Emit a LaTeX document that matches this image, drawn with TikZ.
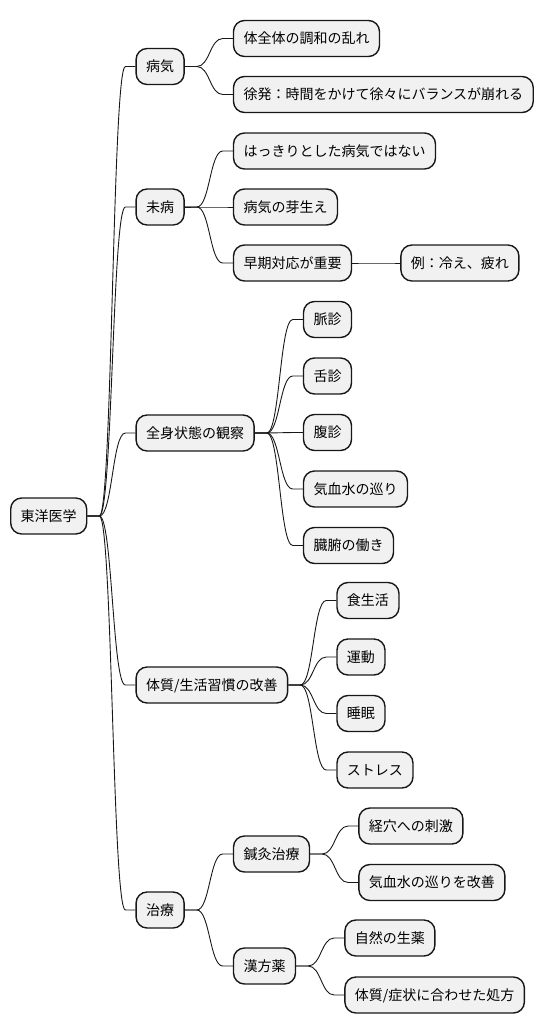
\documentclass[tikz,border=0pt]{standalone}
\usepackage{fontspec}
\setmainfont{Noto Sans CJK JP}
\usetikzlibrary{calc}
\definecolor{nodefill}{HTML}{F1F1F1}
\definecolor{ink}{HTML}{181818}
\tikzset{
  mm/.style={draw=ink, fill=nodefill, line width=1.4pt, rounded corners=11pt,
    minimum height=36pt, inner xsep=10pt, inner ysep=0pt,
    text height=12pt, text depth=1.4pt,
    font=\fontsize{14}{17}\selectfont, anchor=west},
  link/.style={draw=ink, line width=0.9pt},
}
\newcommand\kid[4]{%
  \path (#1.east) ++(48,0) coordinate (#2-x);
  \node[mm] (#2) at (#2-x |- 0,#3) {#4};
  \draw[link] let \p1=(#1.east), \p2=(#2.west) in
    (#1.east) -- (\x1+12pt,\y1)
    .. controls ({(\x1+\x2+2pt)/2},\y1) and ({(\x1+\x2+2pt)/2},\y2) ..
    (\x2-10pt,\y2) -- (#2.west);
}
\begin{document}
\begin{tikzpicture}[x=1pt,y=-1pt]
\useasboundingbox (0,0) rectangle (544,1034);
\node[mm] (root) at (10,516) {東洋医学};
\kid{root}{b}{66.5}{病気}
\kid{b}{b1}{38.5}{体全体の調和の乱れ}
\kid{b}{b2}{94.5}{徐発：時間をかけて徐々にバランスが崩れる}
\kid{root}{m}{207}{未病}
\kid{m}{m1}{151}{はっきりとした病気ではない}
\kid{m}{m2}{207}{病気の芽生え}
\kid{m}{m3}{263}{早期対応が重要}
\kid{m3}{m4}{263}{例：冷え、疲れ}
\kid{root}{z}{433}{全身状態の観察}
\kid{z}{z1}{319.5}{脈診}
\kid{z}{z2}{376}{舌診}
\kid{z}{z3}{432.5}{腹診}
\kid{z}{z4}{489}{気血水の巡り}
\kid{z}{z5}{545.5}{臓腑の働き}
\kid{root}{t}{685}{体質/生活習慣の改善}
\kid{t}{t1}{600.5}{食生活}
\kid{t}{t2}{657}{運動}
\kid{t}{t3}{713.5}{睡眠}
\kid{t}{t4}{770}{ストレス}
\kid{root}{c}{910}{治療}
\kid{c}{c1}{854}{鍼灸治療}
\kid{c1}{c11}{826}{経穴への刺激}
\kid{c1}{c12}{882.5}{気血水の巡りを改善}
\kid{c}{c2}{966}{漢方薬}
\kid{c2}{c21}{938}{自然の生薬}
\kid{c2}{c22}{995}{体質/症状に合わせた処方}
\end{tikzpicture}
\end{document}
